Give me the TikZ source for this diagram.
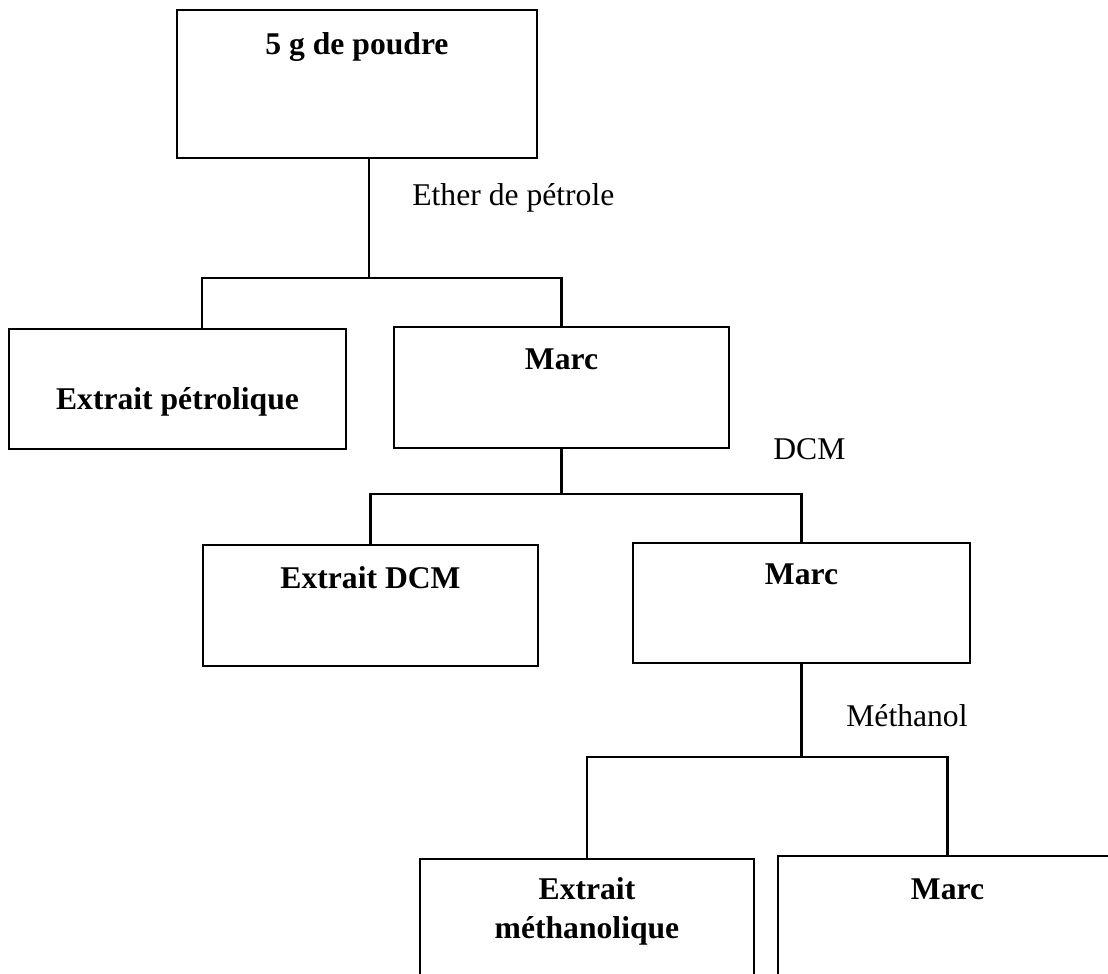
\documentclass[tikz,border=0pt]{standalone}
\usepackage{fontspec}
\setmainfont{Liberation Serif}

\tikzset{
  boite/.style={draw, line width=1.3pt, anchor=north, inner sep=0pt,
    align=center, font=\fontsize{18}{22}\selectfont\bfseries,
    minimum width=6.7cm, text height=0.84cm, text depth=1.58cm},
  solvant/.style={anchor=base west, inner sep=0pt,
    font=\fontsize{18}{22}\selectfont},
  trait/.style={line width=1.3pt}
}

\begin{document}
\begin{tikzpicture}[scale=1]

\useasboundingbox (0,0) rectangle (22.16,-19.48);

% Poudre
\node[boite, minimum width=7.2cm, text height=0.88cm, text depth=2.08cm]
(poudre) at (7.14,-0.18) {5 g de poudre};

% Ether de pétrole
\node[boite, minimum width=6.74cm, text height=1.6cm, text depth=0.8cm]
(petrole) at (3.55,-6.56) {Extrait pétrolique};
\node[boite] (marcA) at (11.23,-6.52) {Marc};

\coordinate (n1) at (7.38,-5.56);
\coordinate (g1) at (4.04,-5.56);
\draw[trait]
(poudre.south -| n1)
--
(n1);
\draw[trait]
(petrole.north -| g1)
--
(g1)
--
(marcA.north |- n1)
--
(marcA.north);

\node[solvant] (ether) at (8.24,-4.1) {Ether de pétrole};

% DCM
\node[boite, text height=0.86cm, text depth=1.56cm]
(dcm) at (7.41,-10.88) {Extrait DCM};
\node[boite, minimum width=6.74cm, text height=0.82cm]
(marcB) at (16.03,-10.84) {Marc};

\coordinate (n2) at (marcA.south |- 0,-9.88);
\draw[trait]
(marcA.south)
--
(n2);
\draw[trait]
(dcm.north)
--
(dcm.north |- n2)
--
(marcB.north |- n2)
--
(marcB.north);

\node[solvant] (dcmsolv) at (15.46,-9.18) {DCM};

% Méthanol
\node[boite, minimum width=6.68cm, text height=1.58cm, text depth=0.82cm]
(methanolique) at (11.74,-17.16) {Extrait\\méthanolique};
\node[boite, minimum width=6.78cm, text height=0.86cm, text depth=1.54cm]
(marcC) at (18.95,-17.1) {Marc};

\coordinate (n3) at (marcB.south |- 0,-15.14);
\draw[trait]
(marcB.south)
--
(n3);
\draw[trait]
(methanolique.north)
--
(methanolique.north |- n3)
--
(marcC.north |- n3)
--
(marcC.north);

\node[solvant] (methanol) at (16.92,-14.52) {Méthanol};

\end{tikzpicture}
\end{document}
